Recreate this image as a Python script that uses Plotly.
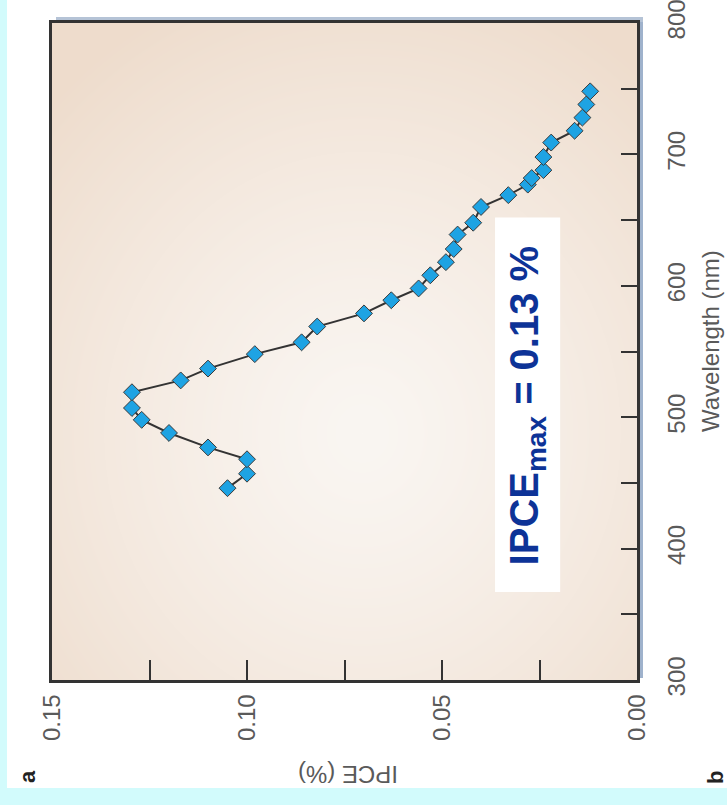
import base64
import struct
import zlib

import numpy as np
import plotly.graph_objects as go

# Photocurrent action spectrum
wavelength_nm = [446, 457, 468, 477, 488, 498, 507, 519, 528, 537, 548, 557,
                 569, 579, 589, 598, 608, 618, 628, 639, 648, 660, 669, 677,
                 682, 688, 698, 709, 718, 728, 738, 748]
ipce_pct = [0.105, 0.100, 0.100, 0.110, 0.120, 0.127, 0.1295, 0.1295, 0.117,
            0.110, 0.098, 0.086, 0.082, 0.070, 0.063, 0.056, 0.053, 0.049,
            0.047, 0.046, 0.042, 0.040, 0.033, 0.028, 0.027, 0.024, 0.024,
            0.022, 0.016, 0.014, 0.013, 0.012]

ipce_ticks = [0.00, 0.05, 0.10, 0.15]
wl_ticks = [300, 400, 500, 600, 700, 800]

FONT = "Liberation Sans, Arial, sans-serif"
W, H = 727, 805
L, R, T, B = 52, 637, 23, 680   # plot-area pixel box


def px_x(p):
    return (p - L) / (R - L)


def px_y(p):
    return (B - p) / (B - T)


def png_data_uri(rgb):
    h, w, _ = rgb.shape
    raw = b"".join(b"\x00" + rgb[r].astype(np.uint8).tobytes() for r in range(h))

    def chunk(tag, data):
        c = tag + data
        return struct.pack(">I", len(data)) + c + struct.pack(">I", zlib.crc32(c) & 0xffffffff)

    png = (b"\x89PNG\r\n\x1a\n"
           + chunk(b"IHDR", struct.pack(">IIBBBBB", w, h, 8, 2, 0, 0, 0))
           + chunk(b"IDAT", zlib.compress(raw, 9))
           + chunk(b"IEND", b""))
    return "data:image/png;base64," + base64.b64encode(png).decode()


# soft radial wash for the plot area
gw, gh = R - L, B - T
yy, xx = np.mgrid[0:gh, 0:gw]
cx, cy = 310, 410
d = np.sqrt(((xx - cx) / 440.0) ** 2 + ((yy - cy) / 480.0) ** 2)
d = np.clip(d, 0, 1) ** 1.3
inner = np.array([250, 246, 242], float)
outer = np.array([238, 220, 204], float)
grad = inner[None, None, :] * (1 - d[..., None]) + outer[None, None, :] * d[..., None]
bg_uri = png_data_uri(grad)

fig = go.Figure()
fig.add_trace(go.Scatter(
    x=ipce_pct, y=wavelength_nm, mode="lines+markers",
    line=dict(color="#333333", width=2),
    marker=dict(symbol="diamond", size=13, color="#1ea3e3",
                line=dict(color="#3a3a3a", width=1)),
    showlegend=False, cliponaxis=False,
))

fig.update_layout(
    width=W, height=H,
    margin=dict(l=L, r=W - R, t=T, b=H - B, autoexpand=False),
    paper_bgcolor="white",
    plot_bgcolor="rgba(0,0,0,0)",
    font=dict(family=FONT, color="#5a5a5a", size=24),
    xaxis=dict(
        range=[0.15, 0.0], tickvals=ipce_ticks, tickformat=".2f",
        tickangle=-90, ticks="inside", ticklen=20, tickwidth=1.5,
        tickcolor="#333333", showline=True, linecolor="#333333",
        linewidth=2.5, mirror=True, showgrid=False, zeroline=False,
        ticklabelstandoff=2, ticklabeloverflow="allow", automargin=False,
        minor=dict(dtick=0.025, tick0=0, ticks="inside", ticklen=20,
                   tickwidth=1.5, tickcolor="#333333"),
        tickfont=dict(size=24, color="#5a5a5a"),
    ),
    yaxis=dict(
        range=[300, 800], tickvals=wl_ticks, side="right",
        tickangle=-90, ticks="inside", ticklen=16, tickwidth=2,
        tickcolor="#333333", showline=True, linecolor="#333333",
        linewidth=2.5, mirror=True, showgrid=False, zeroline=False,
        ticklabelstandoff=16, ticklabeloverflow="allow", automargin=False,
        minor=dict(dtick=50, tick0=300, ticks="inside", ticklen=16,
                   tickwidth=2, tickcolor="#333333"),
        tickfont=dict(size=24, color="#5a5a5a"),
    ),
    images=[dict(source=bg_uri, xref="paper", yref="paper", x=0, y=1,
                 sizex=1, sizey=1, sizing="stretch", layer="below")],
)

shapes = [
    # cyan page edges
    dict(type="rect", xref="paper", yref="paper", x0=px_x(0), x1=px_x(7),
         y0=px_y(805), y1=px_y(0), fillcolor="#d2fbfc", line_width=0, layer="below"),
    dict(type="rect", xref="paper", yref="paper", x0=px_x(0), x1=px_x(727),
         y0=px_y(805), y1=px_y(788), fillcolor="#d2fbfc", line_width=0, layer="below"),
    # frame shadow
    dict(type="rect", xref="paper", yref="paper", x0=px_x(638), x1=px_x(643),
         y0=px_y(678), y1=px_y(18), fillcolor="#9fb2cc", line_width=0, layer="below"),
    dict(type="rect", xref="paper", yref="paper", x0=px_x(56), x1=px_x(643),
         y0=px_y(22), y1=px_y(17), fillcolor="#b5c3d6", line_width=0, layer="below"),
    # label box
    dict(type="rect", xref="x", yref="y", x0=0.0364, x1=0.0197, y0=367, y1=652,
         fillcolor="white", line_width=0, layer="below"),
]
fig.update_layout(shapes=shapes)

common = dict(showarrow=False, xanchor="center", yanchor="middle")
fig.add_annotation(
    x=0.0282, y=509, xref="x", yref="y",
    text="<b>IPCE<sub>max</sub> = 0.13 %</b>", textangle=-90,
    font=dict(family=FONT, size=40, color="#0d3397"), **common,
)
fig.add_annotation(
    x=px_x(710), y=px_y(341), xref="paper", yref="paper",
    text="Wavelength (nm)", textangle=-90,
    font=dict(family=FONT, size=24, color="#5a5a5a"), **common,
)
fig.add_annotation(
    x=px_x(348), y=px_y(775), xref="paper", yref="paper",
    text="IPCE (%)", textangle=180,
    font=dict(family=FONT, size=24, color="#5a5a5a"), **common,
)
fig.add_annotation(
    x=px_x(27), y=px_y(777), xref="paper", yref="paper",
    text="<b>a</b>", textangle=-90,
    font=dict(family=FONT, size=22, color="#222222"), **common,
)
fig.add_annotation(
    x=px_x(715), y=px_y(778), xref="paper", yref="paper",
    text="<b>b</b>", textangle=-90,
    font=dict(family=FONT, size=22, color="#222222"), **common,
)

fig.write_html("out.html")
